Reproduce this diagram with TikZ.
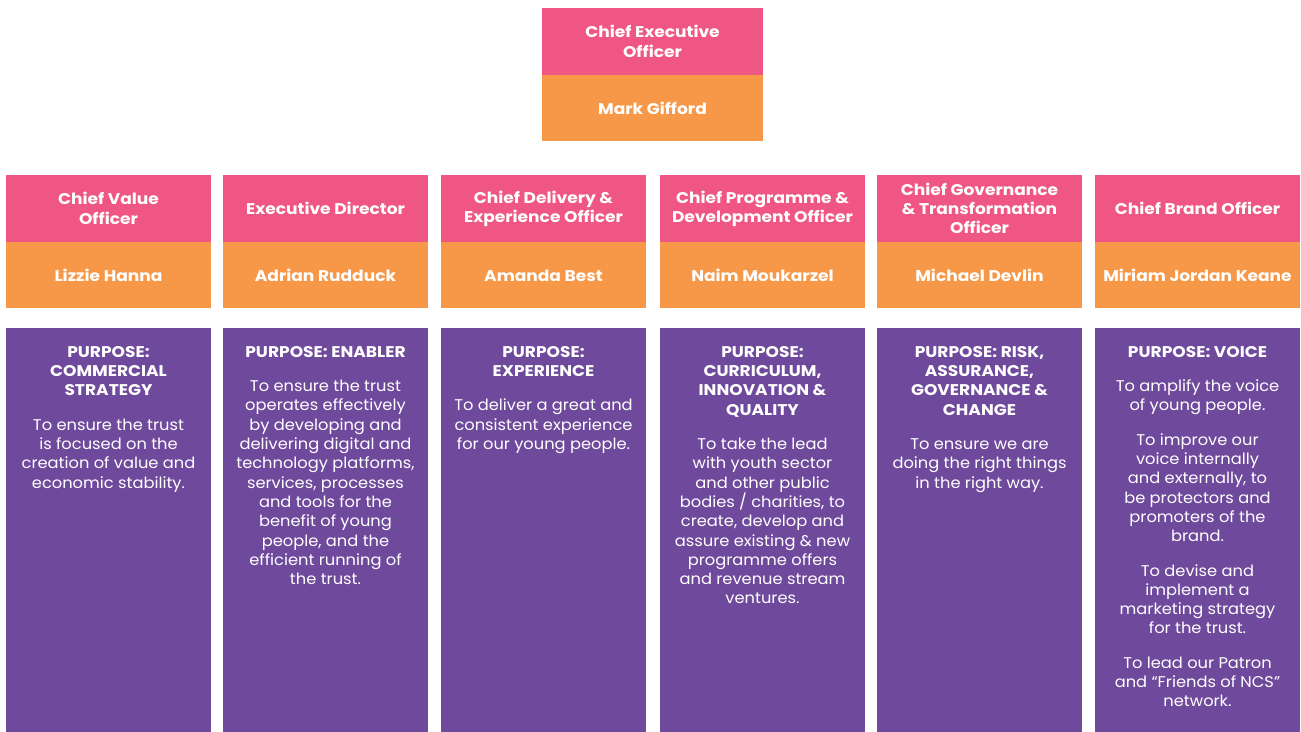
\documentclass[tikz,border=0pt]{standalone}
\usepackage{fontspec}
\setmainfont{Poppins}[FakeStretch=1.05, BoldFeatures={FakeStretch=1.1}]
\usetikzlibrary{positioning}

\definecolor{rolepink}{RGB}{239,86,132}
\definecolor{nameorange}{RGB}{247,152,72}
\definecolor{purposepurple}{RGB}{111,73,155}

\begin{document}
\begin{tikzpicture}[
    x=1pt, y=-1pt,
    rolebox/.style={
        rectangle,
        fill=rolepink,
        minimum width=205pt,
        minimum height=67pt,
        inner sep=0pt,
        align=center,
        text=white,
        font=\fontsize{15.5}{19.3}\selectfont\bfseries
    },
    namebox/.style={
        rectangle,
        fill=nameorange,
        minimum width=205pt,
        minimum height=66pt,
        inner sep=0pt,
        text height=12pt,
        text depth=0pt,
        align=center,
        text=white,
        font=\fontsize{15.5}{19.3}\selectfont\bfseries
    },
    purposebox/.style={
        rectangle,
        fill=purposepurple,
        minimum width=205pt,
        minimum height=404pt,
        inner sep=0pt
    },
    purposetext/.style={
        anchor=north,
        align=center,
        inner sep=0pt,
        text=white,
        font=\fontsize{15.5}{19.3}\selectfont
    }
]
\useasboundingbox (0,0) rectangle (1301,731);

% chief executive
\node[rolebox, minimum width=221pt] (ceo) at (652.5,41.5) {Chief Executive\\Officer};
\node[namebox, minimum width=221pt, below=0pt of ceo] (ceoname) {Mark Gifford};

% directors
\node[rolebox] (value) at (108.5,208.5) {Chief Value\\Officer};
\node[rolebox] (exec) at (325.5,208.5) {Executive Director};
\node[rolebox] (delivery) at (543.5,208.5) {Chief Delivery \&\\Experience Officer};
\node[rolebox] (programme) at (762.5,208.5) {Chief Programme \&\\Development Officer};
\node[rolebox] (governance) at (979.5,208.5) {Chief Governance\\\& Transformation\\Officer};
\node[rolebox] (brand) at (1197.5,208.5) {Chief Brand Officer};

\node[namebox, below=0pt of value] (valuename) {Lizzie Hanna};
\node[namebox, below=0pt of exec] (execname) {Adrian Rudduck};
\node[namebox, below=0pt of delivery] (deliveryname) {Amanda Best};
\node[namebox, below=0pt of programme] (programmename) {Naim Moukarzel};
\node[namebox, below=0pt of governance] (governancename) {Michael Devlin};
\node[namebox, below=0pt of brand] (brandname) {Miriam Jordan Keane};

% purposes
\node[purposebox, below=19pt of valuename] (valuepurpose) {};
\node[purposebox, below=19pt of execname] (execpurpose) {};
\node[purposebox, below=19pt of deliveryname] (deliverypurpose) {};
\node[purposebox, below=19pt of programmename] (programmepurpose) {};
\node[purposebox, below=19pt of governancename] (governancepurpose) {};
\node[purposebox, below=19pt of brandname] (brandpurpose) {};

\node[purposetext, below=18.5pt of valuepurpose.north] (valuetext)
    {\textbf{PURPOSE:}\\\textbf{COMMERCIAL}\\\textbf{STRATEGY}\\[15pt]
     To ensure the trust\\is focused on the\\creation of value and\\economic stability.};
\node[purposetext, below=18.5pt of execpurpose.north] (exectext)
    {\textbf{PURPOSE: ENABLER}\\[15pt]
     To ensure the trust\\operates effectively\\by developing and\\delivering digital and\\technology platforms,\\services, processes\\and tools for the\\benefit of young\\people, and the\\efficient running of\\the trust.};
\node[purposetext, below=18.5pt of deliverypurpose.north] (deliverytext)
    {\textbf{PURPOSE:}\\\textbf{EXPERIENCE}\\[15pt]
     To deliver a great and\\consistent experience\\for our young people.};
\node[purposetext, below=18.5pt of programmepurpose.north] (programmetext)
    {\textbf{PURPOSE:}\\\textbf{CURRICULUM,}\\\textbf{INNOVATION \&}\\\textbf{QUALITY}\\[15pt]
     To take the lead\\with youth sector\\and other public\\bodies / charities, to\\create, develop and\\assure existing \& new\\programme offers\\and revenue stream\\ventures.};
\node[purposetext, below=18.5pt of governancepurpose.north] (governancetext)
    {\textbf{PURPOSE: RISK,}\\\textbf{ASSURANCE,}\\\textbf{GOVERNANCE \&}\\\textbf{CHANGE}\\[15pt]
     To ensure we are\\doing the right things\\in the right way.};
\node[purposetext, below=18.5pt of brandpurpose.north] (brandtext)
    {\textbf{PURPOSE: VOICE}\\[15pt]
     To amplify the voice\\of young people.\\[15pt]
     To improve our\\voice internally\\and externally, to\\be protectors and\\promoters of the\\brand.\\[15pt]
     To devise and\\implement a\\marketing strategy\\for the trust.\\[15pt]
     To lead our Patron\\and “Friends of NCS”\\network.};

\end{tikzpicture}
\end{document}
